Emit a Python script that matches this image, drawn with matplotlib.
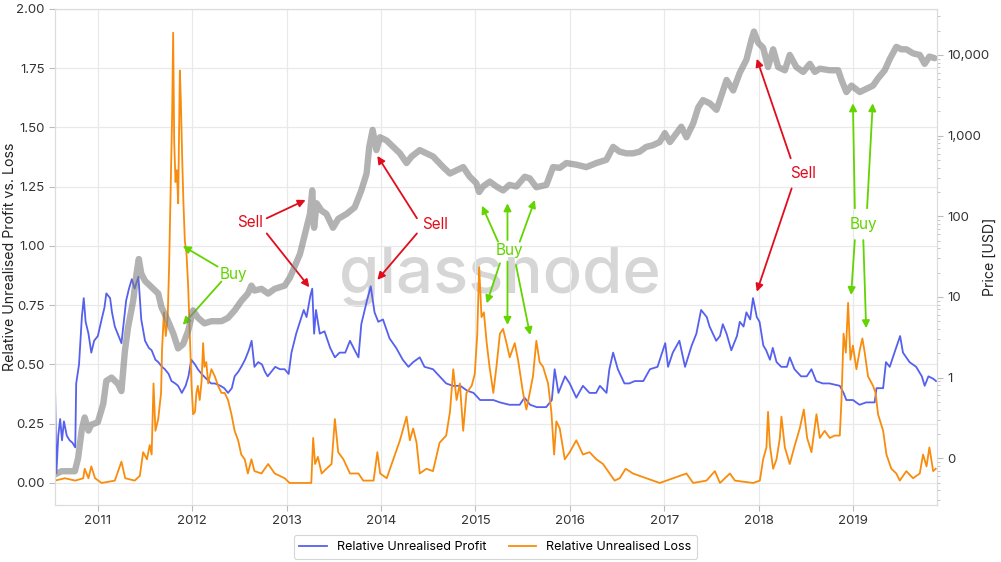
import datetime as dt
import numpy as np
import matplotlib
matplotlib.use('Agg')
import matplotlib.pyplot as plt
import matplotlib.dates as mdates
from matplotlib.ticker import FuncFormatter, LogLocator, MultipleLocator

plt.rcParams['font.family'] = ['Inter', 'DejaVu Sans']

# data (tahun desimal)
profit_t = [2010.545, 2010.56, 2010.58, 2010.60, 2010.62, 2010.64, 2010.67, 2010.70, 2010.73, 2010.76,
            2010.77, 2010.80, 2010.83, 2010.85, 2010.87, 2010.90, 2010.93, 2010.96, 2011.00, 2011.04,
            2011.07, 2011.09, 2011.13, 2011.15, 2011.18, 2011.22, 2011.25, 2011.28, 2011.30, 2011.33,
            2011.36, 2011.39, 2011.43, 2011.46, 2011.50, 2011.54, 2011.57, 2011.61, 2011.64, 2011.68,
            2011.71, 2011.75, 2011.78, 2011.82, 2011.85, 2011.89, 2011.93, 2011.96, 2011.99, 2012.03,
            2012.06, 2012.10, 2012.15, 2012.20, 2012.24, 2012.30, 2012.34, 2012.38, 2012.42, 2012.45,
            2012.49, 2012.52, 2012.56, 2012.60, 2012.63, 2012.66, 2012.70, 2012.74, 2012.77, 2012.80,
            2012.84, 2012.88, 2012.93, 2012.98, 2013.02, 2013.05, 2013.10, 2013.18, 2013.21, 2013.25,
            2013.27, 2013.29, 2013.31, 2013.35, 2013.40, 2013.46, 2013.51, 2013.56, 2013.62, 2013.67,
            2013.72, 2013.76, 2013.79, 2013.85, 2013.89, 2013.93, 2013.97, 2014.02, 2014.09, 2014.16,
            2014.23, 2014.29, 2014.34, 2014.41, 2014.46, 2014.55, 2014.62, 2014.69, 2014.76, 2014.84,
            2014.91, 2014.98, 2015.05, 2015.12, 2015.19, 2015.26, 2015.36, 2015.47, 2015.52, 2015.58,
            2015.65, 2015.75, 2015.81, 2015.84, 2015.88, 2015.95, 2016.00, 2016.07, 2016.14, 2016.21,
            2016.28, 2016.32, 2016.39, 2016.42, 2016.46, 2016.51, 2016.58, 2016.63, 2016.69, 2016.78,
            2016.85, 2016.93, 2017.01, 2017.04, 2017.09, 2017.16, 2017.22, 2017.29, 2017.34, 2017.39,
            2017.45, 2017.48, 2017.55, 2017.59, 2017.62, 2017.66, 2017.71, 2017.77, 2017.80, 2017.84,
            2017.87, 2017.91, 2017.94, 2017.98, 2018.01, 2018.05, 2018.08, 2018.12, 2018.15, 2018.19,
            2018.24, 2018.30, 2018.33, 2018.38, 2018.45, 2018.51, 2018.56, 2018.61, 2018.68, 2018.75,
            2018.86, 2018.90, 2018.93, 2019.00, 2019.07, 2019.14, 2019.23, 2019.25, 2019.32, 2019.35,
            2019.39, 2019.44, 2019.50, 2019.53, 2019.60, 2019.67, 2019.73, 2019.76, 2019.80, 2019.85,
            2019.88]
profit_v = [0.43, 0.04, 0.20, 0.27, 0.18, 0.26, 0.20, 0.18, 0.17, 0.15,
            0.42, 0.50, 0.70, 0.78, 0.68, 0.63, 0.55, 0.60, 0.62, 0.69,
            0.74, 0.80, 0.78, 0.72, 0.66, 0.62, 0.59, 0.70, 0.77, 0.82,
            0.86, 0.82, 0.87, 0.69, 0.60, 0.57, 0.56, 0.52, 0.51, 0.49,
            0.48, 0.46, 0.43, 0.42, 0.41, 0.38, 0.41, 0.45, 0.52, 0.50,
            0.48, 0.46, 0.44, 0.42, 0.42, 0.41, 0.40, 0.38, 0.40, 0.45,
            0.47, 0.49, 0.52, 0.56, 0.60, 0.49, 0.51, 0.50, 0.47, 0.45,
            0.47, 0.49, 0.48, 0.48, 0.46, 0.55, 0.63, 0.73, 0.70, 0.79,
            0.82, 0.63, 0.73, 0.63, 0.64, 0.57, 0.53, 0.55, 0.55, 0.60,
            0.56, 0.53, 0.67, 0.77, 0.83, 0.72, 0.68, 0.69, 0.61, 0.57,
            0.52, 0.49, 0.51, 0.53, 0.49, 0.48, 0.45, 0.42, 0.41, 0.41,
            0.39, 0.38, 0.35, 0.35, 0.35, 0.34, 0.33, 0.33, 0.36, 0.33,
            0.32, 0.32, 0.35, 0.48, 0.38, 0.45, 0.42, 0.36, 0.41, 0.38,
            0.38, 0.41, 0.38, 0.48, 0.55, 0.48, 0.42, 0.42, 0.43, 0.43,
            0.48, 0.49, 0.59, 0.49, 0.55, 0.60, 0.49, 0.58, 0.63, 0.73,
            0.70, 0.66, 0.60, 0.62, 0.67, 0.63, 0.56, 0.62, 0.68, 0.66,
            0.72, 0.69, 0.78, 0.70, 0.68, 0.58, 0.56, 0.52, 0.57, 0.51,
            0.49, 0.49, 0.53, 0.48, 0.45, 0.45, 0.48, 0.43, 0.42, 0.42,
            0.41, 0.38, 0.35, 0.35, 0.33, 0.34, 0.34, 0.40, 0.40, 0.51,
            0.49, 0.55, 0.62, 0.55, 0.51, 0.49, 0.45, 0.41, 0.45, 0.44,
            0.43]

loss_t = [2010.545, 2010.65, 2010.76, 2010.845, 2010.86, 2010.90, 2010.93, 2010.97, 2011.04, 2011.18,
          2011.25, 2011.29, 2011.39, 2011.445, 2011.48, 2011.52, 2011.55, 2011.57, 2011.59, 2011.61,
          2011.64, 2011.67, 2011.68, 2011.70, 2011.72, 2011.74, 2011.755, 2011.77, 2011.787, 2011.798,
          2011.809, 2011.823, 2011.837, 2011.851, 2011.869, 2011.879, 2011.893, 2011.907, 2011.922, 2011.939,
          2011.957, 2011.975, 2011.992, 2012.01, 2012.03, 2012.045, 2012.06, 2012.08, 2012.10, 2012.116,
          2012.13, 2012.15, 2012.17, 2012.204, 2012.24, 2012.275, 2012.31, 2012.345, 2012.38, 2012.416,
          2012.45, 2012.487, 2012.52, 2012.557, 2012.59, 2012.628, 2012.66, 2012.734, 2012.805, 2012.875,
          2012.98, 2013.03, 2013.26, 2013.28, 2013.30, 2013.33, 2013.37, 2013.42, 2013.475, 2013.51,
          2013.545, 2013.60, 2013.67, 2013.76, 2013.81, 2013.92, 2013.96, 2013.99, 2014.06, 2014.13,
          2014.20, 2014.27, 2014.305, 2014.34, 2014.376, 2014.41, 2014.48, 2014.55, 2014.62, 2014.69,
          2014.73, 2014.765, 2014.80, 2014.835, 2014.87, 2014.905, 2014.96, 2014.993, 2015.02, 2015.04,
          2015.065, 2015.09, 2015.12, 2015.15, 2015.19, 2015.223, 2015.26, 2015.293, 2015.33, 2015.364,
          2015.417, 2015.452, 2015.505, 2015.54, 2015.576, 2015.61, 2015.646, 2015.68, 2015.717, 2015.77,
          2015.805, 2015.834, 2015.858, 2015.894, 2015.947, 2016.00, 2016.07, 2016.14, 2016.21, 2016.282,
          2016.353, 2016.423, 2016.476, 2016.53, 2016.593, 2016.67, 2016.81, 2016.953, 2017.023, 2017.235,
          2017.306, 2017.447, 2017.536, 2017.59, 2017.695, 2017.748, 2017.942, 2018.013, 2018.048, 2018.083,
          2018.10, 2018.119, 2018.154, 2018.19, 2018.225, 2018.242, 2018.278, 2018.33, 2018.384, 2018.436,
          2018.479, 2018.514, 2018.56, 2018.613, 2018.648, 2018.70, 2018.754, 2018.807, 2018.86, 2018.878,
          2018.90, 2018.924, 2018.948, 2018.973, 2019.00, 2019.037, 2019.072, 2019.10, 2019.125, 2019.16,
          2019.213, 2019.24, 2019.266, 2019.32, 2019.355, 2019.407, 2019.46, 2019.496, 2019.566, 2019.637,
          2019.708, 2019.743, 2019.78, 2019.81, 2019.85, 2019.877]
loss_v = [0.01, 0.02, 0.01, 0.02, 0.06, 0.02, 0.07, 0.02, 0.00, 0.01,
          0.09, 0.02, 0.01, 0.03, 0.13, 0.10, 0.16, 0.12, 0.42, 0.22,
          0.27, 0.38, 0.56, 0.72, 0.62, 0.70, 0.91, 1.20, 1.55, 1.90,
          1.44, 1.27, 1.32, 1.18, 1.74, 1.62, 1.38, 1.18, 1.02, 0.97,
          0.83, 0.62, 0.42, 0.29, 0.30, 0.38, 0.41, 0.35, 0.43, 0.59,
          0.49, 0.51, 0.42, 0.48, 0.45, 0.41, 0.38, 0.38, 0.35, 0.29,
          0.22, 0.18, 0.12, 0.10, 0.04, 0.10, 0.05, 0.04, 0.08, 0.04,
          0.02, 0.00, 0.00, 0.19, 0.08, 0.11, 0.04, 0.06, 0.08, 0.27,
          0.13, 0.10, 0.04, 0.04, 0.01, 0.01, 0.13, 0.04, 0.02, 0.10,
          0.18, 0.28, 0.18, 0.23, 0.17, 0.04, 0.06, 0.05, 0.17, 0.20,
          0.30, 0.48, 0.35, 0.42, 0.22, 0.38, 0.41, 0.46, 0.63, 0.91,
          0.70, 0.72, 0.59, 0.49, 0.38, 0.49, 0.63, 0.65, 0.59, 0.53,
          0.59, 0.52, 0.38, 0.31, 0.38, 0.45, 0.60, 0.51, 0.49, 0.42,
          0.30, 0.12, 0.26, 0.23, 0.10, 0.13, 0.18, 0.12, 0.13, 0.10,
          0.08, 0.04, 0.01, 0.02, 0.06, 0.04, 0.02, 0.00, 0.01, 0.04,
          0.00, 0.01, 0.05, 0.00, 0.04, 0.01, 0.00, 0.01, 0.10, 0.15,
          0.30, 0.16, 0.06, 0.10, 0.19, 0.28, 0.15, 0.08, 0.16, 0.23,
          0.31, 0.19, 0.13, 0.29, 0.19, 0.22, 0.19, 0.20, 0.20, 0.35,
          0.63, 0.55, 0.76, 0.52, 0.58, 0.48, 0.56, 0.61, 0.55, 0.45,
          0.41, 0.38, 0.29, 0.22, 0.12, 0.06, 0.04, 0.01, 0.05, 0.02,
          0.04, 0.12, 0.07, 0.15, 0.05, 0.06]

harga_t = [2010.545, 2010.615, 2010.756, 2010.79, 2010.83, 2010.86, 2010.90, 2010.93, 2011.00, 2011.057,
           2011.09, 2011.145, 2011.215, 2011.25, 2011.286, 2011.32, 2011.374, 2011.41, 2011.434, 2011.46,
           2011.50, 2011.57, 2011.64, 2011.675, 2011.745, 2011.80, 2011.85, 2011.904, 2011.957, 2012.01,
           2012.063, 2012.13, 2012.204, 2012.31, 2012.38, 2012.45, 2012.52, 2012.59, 2012.628, 2012.66,
           2012.734, 2012.805, 2012.875, 2012.98, 2013.034, 2013.14, 2013.21, 2013.246, 2013.27, 2013.29,
           2013.316, 2013.37, 2013.42, 2013.49, 2013.546, 2013.634, 2013.72, 2013.79, 2013.846, 2013.874,
           2013.91, 2013.95, 2013.988, 2014.058, 2014.13, 2014.20, 2014.27, 2014.323, 2014.41, 2014.48,
           2014.552, 2014.658, 2014.73, 2014.80, 2014.87, 2014.94, 2015.01, 2015.04, 2015.08, 2015.153,
           2015.223, 2015.294, 2015.36, 2015.434, 2015.523, 2015.576, 2015.646, 2015.752, 2015.823, 2015.894,
           2015.964, 2016.07, 2016.176, 2016.282, 2016.388, 2016.46, 2016.53, 2016.60, 2016.67, 2016.74,
           2016.81, 2016.88, 2016.953, 2017.006, 2017.06, 2017.13, 2017.18, 2017.235, 2017.306, 2017.36,
           2017.41, 2017.483, 2017.553, 2017.589, 2017.66, 2017.73, 2017.80, 2017.87, 2017.924, 2017.95,
           2017.995, 2018.048, 2018.10, 2018.154, 2018.207, 2018.278, 2018.33, 2018.40, 2018.472, 2018.543,
           2018.595, 2018.648, 2018.754, 2018.843, 2018.878, 2018.93, 2018.984, 2019.072, 2019.143, 2019.213,
           2019.266, 2019.337, 2019.39, 2019.46, 2019.513, 2019.566, 2019.637, 2019.708, 2019.76, 2019.81,
           2019.866]
harga_v = [0.063, 0.069, 0.069, 0.10, 0.23, 0.32, 0.22, 0.26, 0.28, 0.47,
           0.91, 1.0, 0.83, 0.68, 2.1, 4.2, 8.9, 19.5, 29.5, 19.5,
           15.8, 13.2, 11.0, 7.4, 5.0, 3.5, 2.3, 2.6, 3.8, 6.8,
           5.5, 4.7, 5.0, 5.0, 5.5, 6.8, 8.9, 11.0, 13.8, 12.0,
           12.6, 11.0, 12.6, 13.8, 17.4, 34.0, 72.0, 107.0, 209.0, 72.0,
           145.0, 117.0, 107.0, 72.0, 93.0, 107.0, 129.0, 209.0, 339.0, 724.0,
           1175.0, 661.0, 955.0, 871.0, 724.0, 603.0, 457.0, 550.0, 661.0, 603.0,
           550.0, 407.0, 339.0, 372.0, 407.0, 309.0, 257.0, 200.0, 234.0, 269.0,
           234.0, 209.0, 245.0, 234.0, 309.0, 295.0, 229.0, 245.0, 407.0, 398.0,
           457.0, 436.0, 407.0, 457.0, 501.0, 724.0, 631.0, 603.0, 603.0, 631.0,
           724.0, 759.0, 832.0, 1072.0, 832.0, 1072.0, 1288.0, 955.0, 1413.0, 2239.0,
           2754.0, 2512.0, 2089.0, 2754.0, 4898.0, 3631.0, 6026.0, 8710.0, 15500.0, 19500.0,
           14125.0, 12300.0, 7080.0, 11750.0, 7080.0, 6460.0, 10000.0, 7080.0, 6166.0, 7762.0,
           6166.0, 6760.0, 6460.0, 6460.0, 4900.0, 3470.0, 4170.0, 3470.0, 3800.0, 4170.0,
           5130.0, 6460.0, 8900.0, 12600.0, 11750.0, 11750.0, 10470.0, 10000.0, 7760.0, 9550.0,
           9120.0]

tahun_ticks = list(range(2011, 2020))
harga_ticks = [0.1, 1, 10, 100, 1000, 10000]


def tahun(y):
    th = int(y)
    awal = dt.datetime(th, 1, 1)
    return awal + dt.timedelta(days=(y - th) * 365.25)


biru = '#5560ee'
oranye = '#f98c0c'
merah = '#e00d1c'
hijau = '#62d400'

fig = plt.figure(figsize=(10.01, 5.62), dpi=100)
ax = fig.add_axes([0.0549, 0.1014, 0.8811, 0.8826])
ax2 = ax.twinx()

ax.plot([tahun(t) for t in profit_t], profit_v, color=biru, lw=1.3, label='Relative Unrealised Profit', zorder=3)
ax.plot([tahun(t) for t in loss_t], loss_v, color=oranye, lw=1.3, label='Relative Unrealised Loss', zorder=3)
ax2.plot([tahun(t) for t in harga_t], harga_v, color='#7f7f7f', lw=4.6, alpha=0.6, solid_capstyle='round')

ax.set_xlim(tahun(2010.545), tahun(2019.89))
ax.set_ylim(-0.093, 2.0)
ax2.set_yscale('log')
ax2.set_ylim(0.0263, 37150)

ax.set_xticks([dt.datetime(y, 1, 1) for y in tahun_ticks])
ax.xaxis.set_major_formatter(mdates.DateFormatter('%Y'))
ax.yaxis.set_major_locator(MultipleLocator(0.25))
ax.yaxis.set_major_formatter(FuncFormatter(lambda v, p: f'{v:.2f}'))
ax2.set_yticks(harga_ticks)
ax2.yaxis.set_minor_locator(LogLocator(base=10, subs=np.arange(2, 10)))
ax2.yaxis.set_major_formatter(FuncFormatter(lambda v, p: f'{v:,.0f}'))
ax2.yaxis.set_minor_formatter(FuncFormatter(lambda v, p: ''))

ax.grid(True, color='#e9e9e9', lw=0.9)
ax.set_axisbelow(True)
for a in (ax, ax2):
    for s in a.spines.values():
        s.set_color('#dcdcdc')
    a.tick_params(colors='#333333', labelsize=9.5, length=4, color='#bbbbbb')
ax2.tick_params(which='minor', length=2.5, color='#bbbbbb')

ax.set_ylabel('Relative Unrealised Profit vs. Loss', fontsize=10.2, color='#222222')
ax.yaxis.set_label_coords(-0.043, 0.5)
ax2.set_ylabel('Price [USD]', fontsize=10.2, color='#222222')
ax2.yaxis.set_label_coords(1.052, 0.5)

ax.text(0.5045, 0.427, 'glassnode', transform=ax.transAxes, ha='center', va='baseline',
        fontsize=47, fontweight='medium', color='#d6d6d6', zorder=0)

# anotasi (beli / jual)
panah_beli = [((2011.90, 1.00), (2012.27, 0.913)), ((2011.90, 0.667), (2012.31, 0.85)),
              ((2015.07, 1.17), (2015.24, 1.018)), ((2015.34, 1.18), (2015.34, 1.025)),
              ((2015.63, 1.194), (2015.47, 1.018)), ((2015.12, 0.758), (2015.26, 0.927)),
              ((2015.34, 0.667), (2015.34, 0.934)), ((2015.58, 0.624), (2015.43, 0.92)),
              ((2019.00, 1.602), (2019.02, 1.159)), ((2019.21, 1.602), (2019.15, 1.159)),
              ((2018.98, 0.793), (2019.02, 1.025)), ((2019.14, 0.653), (2019.11, 1.025))]
panah_jual = [((2013.20, 1.194), (2012.79, 1.117)), ((2013.24, 0.826), (2012.79, 1.053)),
              ((2013.96, 1.380), (2014.38, 1.117)), ((2013.96, 0.857), (2014.38, 1.053)),
              ((2017.98, 1.79), (2018.34, 1.37)), ((2017.98, 0.807), (2018.35, 1.243))]
teks_beli = [(2012.44, 0.88), (2015.36, 0.98), (2019.11, 1.089)]
teks_jual = [(2012.61, 1.097), (2014.57, 1.089), (2018.47, 1.304)]

for ujung, pangkal, warna in [(u, p, hijau) for u, p in panah_beli] + [(u, p, merah) for u, p in panah_jual]:
    ax.annotate('', xy=(tahun(ujung[0]), ujung[1]), xytext=(tahun(pangkal[0]), pangkal[1]),
                arrowprops=dict(arrowstyle='-|>', color=warna, lw=1.3, mutation_scale=11,
                                shrinkA=0, shrinkB=0), zorder=5)
for x, y in teks_beli:
    ax.text(tahun(x), y, 'Buy', color=hijau, fontsize=11, ha='center', va='center', zorder=6)
for x, y in teks_jual:
    ax.text(tahun(x), y, 'Sell', color=merah, fontsize=11, ha='center', va='center', zorder=6)

leg = fig.legend(loc='center', bbox_to_anchor=(0.495, 0.0267), ncol=2, fontsize=9,
                 frameon=True, fancybox=True, edgecolor='#cccccc', handlelength=2.2,
                 columnspacing=1.8, borderpad=0.45)
leg.get_frame().set_linewidth(0.8)

fig.savefig('out.png', dpi=100)
